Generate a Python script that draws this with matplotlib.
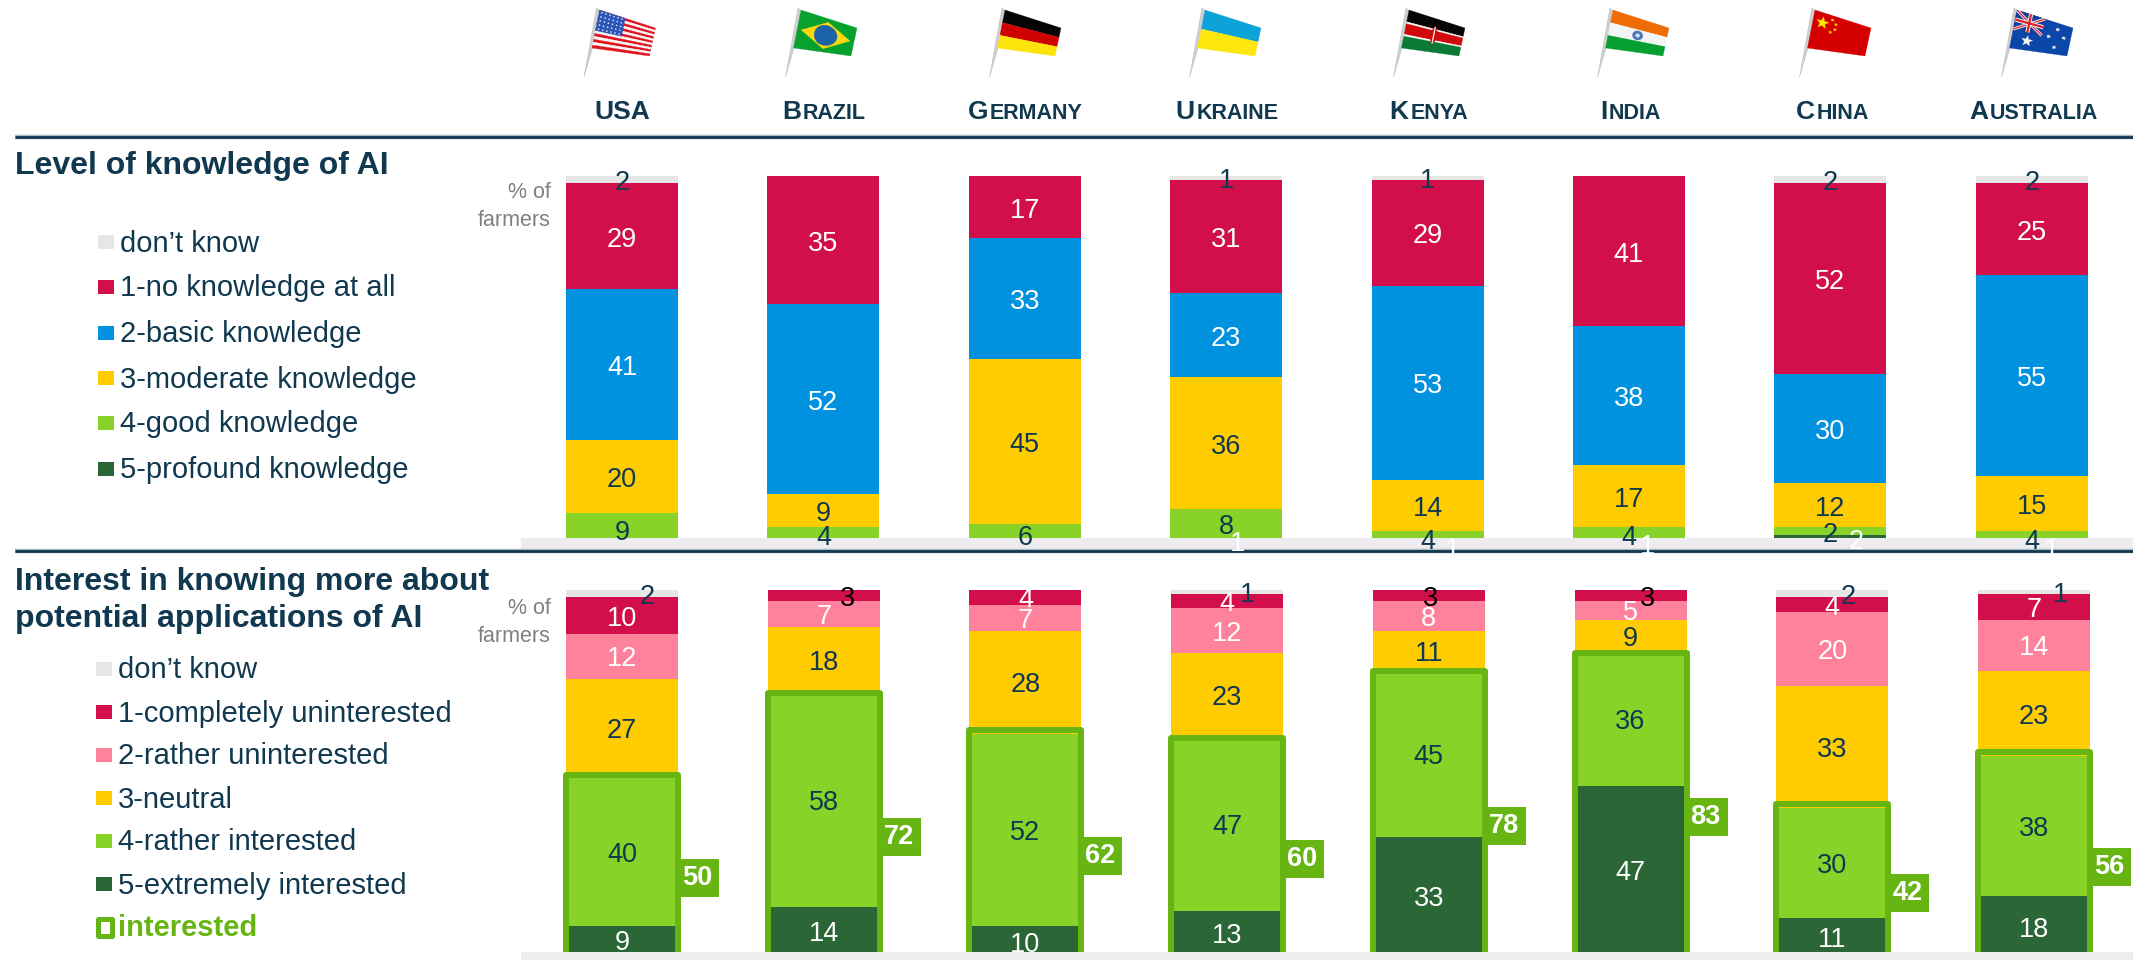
import numpy as np
import matplotlib
matplotlib.use('Agg')
import matplotlib.pyplot as plt
from matplotlib.patches import Polygon, Rectangle

plt.rcParams['font.family'] = ['Liberation Sans', 'DejaVu Sans']

W, H = 2133, 960
NAVY = '#10384F'
OUTLINE = '#66B512'

countries = ['USA', 'Brazil', 'Germany', 'Ukraine', 'Kenya', 'India', 'China', 'Australia']

# top panel, top of the stack first
k_dontknow = [2, 0, 0, 1, 1, 0, 2, 2]
k_none = [29, 35, 17, 31, 29, 41, 52, 25]
k_basic = [41, 52, 33, 23, 53, 38, 30, 55]
k_moderate = [20, 9, 45, 36, 14, 17, 12, 15]
k_good = [9, 4, 6, 8, 4, 4, 2, 4]
k_profound = [0, 0, 0, 1, 1, 1, 2, 1]

# bottom panel, top of the stack first
i_dontknow = [2, 0, 0, 1, 0, 0, 2, 1]
i_complete = [10, 3, 4, 4, 3, 3, 4, 7]
i_rather_un = [12, 7, 7, 12, 8, 5, 20, 14]
i_neutral = [27, 18, 28, 23, 11, 9, 33, 23]
i_rather = [40, 58, 52, 47, 45, 36, 30, 38]
i_extreme = [9, 14, 10, 13, 33, 47, 11, 18]
i_interested = [50, 72, 62, 60, 78, 83, 42, 56]

k_legend = ['don’t know', '1-no knowledge at all', '2-basic knowledge',
            '3-moderate knowledge', '4-good knowledge', '5-profound knowledge']
i_legend = ['don’t know', '1-completely uninterested', '2-rather uninterested',
            '3-neutral', '4-rather interested', '5-extremely interested']

k_colors = ['#E6E6E6', '#D30F4B', '#0091DF', '#FFCC00', '#89D329', '#2B6636']
i_colors = ['#E6E6E6', '#D30F4B', '#FF829D', '#FFCC00', '#89D329', '#2B6636']
k_textcol = [NAVY, 'white', 'white', NAVY, NAVY, 'white']
i_textcol = [NAVY, 'white', 'white', NAVY, NAVY, 'white']

# sideways nudges of the small labels, in pixels
k_profound_dx = [0, 0, 0, 11, 25, 19, 26, 20]
i_dontknow_dx = [25, 0, 0, 20, 0, 0, 16, 27]
i_three_dx = [0, 24, 0, 0, 2, 17, 0, 0]

SCALE_K = 3.66  # pixels per percent
SCALE_I = 3.69

fig = plt.figure(figsize=(W / 100, H / 100), dpi=100, facecolor='white')

# pixel canvas for rules, legends and flags
bg = fig.add_axes([0, 0, 1, 1], zorder=0)
bg.set_xlim(0, W)
bg.set_ylim(H, 0)
bg.axis('off')

bg.add_patch(Rectangle((521, 538), W - 521, 13, color='#EEECEF', lw=0))
bg.add_patch(Rectangle((521, 952), W - 521, 8, color='#EEECEF', lw=0))
for y in [137, 551]:
    bg.plot([15, W], [y, y], color='#A9BAC4', lw=3.2, solid_capstyle='butt')
    bg.plot([15, W], [y, y], color=NAVY, lw=2.0, solid_capstyle='butt')


def panel(top, bottom, first, step, scale):
    ax = fig.add_axes([0, 1 - bottom / H, 1, (bottom - top) / H], zorder=1)
    ax.patch.set_alpha(0)
    ax.axis('off')
    ax.set_xlim(-first / step, (W - first) / step)
    ax.set_ylim(100 - (bottom - top) / scale, 100)
    return ax


def stack(ax, series, colors, step):
    series = np.array(series, dtype=float)
    x = np.arange(series.shape[1])
    top = np.full(series.shape[1], 100.0)
    mids = []
    for s, col in zip(series, colors):
        ax.bar(x, s, bottom=top - s, width=112 / step, color=col, lw=0, zorder=1)
        mids.append(top - s / 2)
        top = top - s
    return x, mids


def num(ax, x, y, value, color, dx=0, dy=3.5):
    ax.annotate(str(value), (x, y), xytext=(dx * 0.72, -dy * 0.72), textcoords='offset points',
                ha='center', va='center', fontsize=19.5, color=color, zorder=5,
                annotation_clip=False)


# top panel
step_k = 201.4
ax_k = panel(176, 538, 622, step_k, SCALE_K)
k_series = [k_dontknow, k_none, k_basic, k_moderate, k_good, k_profound]
x, mids = stack(ax_k, k_series, k_colors, step_k)
for j, s in enumerate(k_series):
    for i, v in enumerate(s):
        if v == 0:
            continue
        if j == 5:
            num(ax_k, x[i], mids[j][i], v, k_textcol[j], dx=k_profound_dx[i])
        else:
            num(ax_k, x[i], mids[j][i], v, k_textcol[j])

# bottom panel
step_i = 201.7
ax_i = panel(590, 952, 622, step_i, SCALE_I)
i_series = [i_dontknow, i_complete, i_rather_un, i_neutral, i_rather, i_extreme]
x, mids = stack(ax_i, i_series, i_colors, step_i)
ax_i.bar(x, i_interested, width=112 / step_i, fill=False, edgecolor=OUTLINE, lw=4.3,
         joinstyle='round', zorder=3)
for j, s in enumerate(i_series):
    for i, v in enumerate(s):
        if v == 0:
            continue
        col = i_textcol[j]
        dx = 0
        if j == 0:
            dx = i_dontknow_dx[i]
        if j == 1 and v == 3:
            col = 'black'
            dx = i_three_dx[i]
        num(ax_i, x[i], mids[j][i], v, col, dx=dx, dy=1 if j == 5 else 3)
for i, v in enumerate(i_interested):
    tag_x, tag_y = x[i] + 75 / step_i, v / 2 - 3
    ax_i.add_patch(Rectangle((tag_x - 22 / step_i, tag_y - 19 / SCALE_I), 44 / step_i, 38 / SCALE_I,
                             fc=OUTLINE, lw=0, zorder=4))
    ax_i.text(tag_x, tag_y, str(v), ha='center', va='center', fontsize=19.5, fontweight='bold',
              color='white', zorder=6)


# country headers with small capitals
def header(word, xc, base=119):
    if word.isupper():
        parts = [bg.text(0, base, word, fontsize=19, fontweight='bold', color=NAVY, va='baseline')]
    else:
        parts = [bg.text(0, base, word[0], fontsize=19, fontweight='bold', color=NAVY, va='baseline'),
                 bg.text(0, base, word[1:].upper(), fontsize=15.5, fontweight='bold',
                         color=NAVY, va='baseline')]
    r = fig.canvas.get_renderer()
    widths = [p.get_window_extent(r).width for p in parts]
    pos = xc - (sum(widths) + 1.5 * (len(parts) - 1)) / 2
    for p, w in zip(parts, widths):
        p.set_x(pos)
        pos += w + 1.5


for i, c in enumerate(countries):
    header(c, 622 + step_i * i)

# titles and legends
bg.text(15, 174, 'Level of knowledge of AI', fontsize=23, fontweight='bold', color=NAVY, va='baseline')
bg.text(15, 590, 'Interest in knowing more about', fontsize=23, fontweight='bold', color=NAVY, va='baseline')
bg.text(15, 627, 'potential applications of AI', fontsize=23, fontweight='bold', color=NAVY, va='baseline')

for lab, col, y in zip(k_legend, k_colors, [242, 287, 333, 378, 423, 469]):
    bg.add_patch(Rectangle((98, y - 7), 16, 14, color=col, lw=0))
    bg.text(120, y + 1.5, lab, fontsize=21, color=NAVY, va='center')
for lab, col, y in zip(i_legend, i_colors, [669, 712, 755, 798, 841, 884]):
    bg.add_patch(Rectangle((96, y - 7), 16, 14, color=col, lw=0))
    bg.text(118, y + 1.5, lab, fontsize=21, color=NAVY, va='center')
bg.add_patch(Rectangle((97.5, 918.5), 14, 17, fc='white', ec=OUTLINE, lw=3.6, joinstyle='round'))
bg.text(118, 928.5, 'interested', fontsize=21, fontweight='bold', color=OUTLINE, va='center')

for y0, gap in [(192, 29), (609, 27)]:
    bg.text(551, y0, '% of', fontsize=15.5, color='#808080', ha='right', va='center')
    bg.text(551, y0 + gap, 'farmers', fontsize=15.5, color='#808080', ha='right', va='center')


# flags: everything in (u, v) on a slanted quad
def flag_map(ax0, ay0):
    tl, tr, br, bl = [np.array(p, float) for p in [(0, 0), (56, 18), (50, 46), (-7.5, 38)]]
    org = np.array([ax0, ay0], float)

    def f(u, v):
        return org + (1 - v) * ((1 - u) * tl + u * tr) + v * ((1 - u) * bl + u * br)
    return f


def poly(f, pts, col, z=2):
    bg.add_patch(Polygon([f(u, v) for u, v in pts], closed=True, fc=col, ec=col, lw=0.2, zorder=z))


def strip(f, v0, v1, col, u0=0, u1=1):
    poly(f, [(u0, v0), (u1, v0), (u1, v1), (u0, v1)], col)


def disc(f, u, v, r, col, z=3, n=24, star=False):
    t = np.linspace(0, 2 * np.pi, n, endpoint=False) - np.pi / 2
    if star:
        t = np.linspace(0, 2 * np.pi, 10, endpoint=False) - np.pi / 2
        rr = np.where(np.arange(10) % 2 == 0, r, r * 0.42)
    else:
        rr = np.full(len(t), r)
    poly(f, list(zip(u + rr * np.cos(t), v + 1.5 * rr * np.sin(t))), col, z)


def seg(f, a, b, lw, col):
    p, q = f(*a), f(*b)
    bg.plot([p[0], q[0]], [p[1], q[1]], color=col, lw=lw, solid_capstyle='butt', zorder=3)


def usa(f):
    for k in range(13):
        strip(f, k / 13, (k + 1) / 13, '#E0141E' if k % 2 == 0 else '#F6F6F6')
    strip(f, 0, 7 / 13, '#2C55B8', 0, 0.46)
    for a in np.linspace(0.05, 0.41, 6):
        for b in np.linspace(0.05, 0.49, 5):
            disc(f, a, b, 0.012, '#E8EEFA', n=6)


def brazil(f):
    strip(f, 0, 1, '#06A12F')
    poly(f, [(0.5, 0.1), (0.93, 0.5), (0.5, 0.9), (0.07, 0.5)], '#FBD90E')
    disc(f, 0.5, 0.5, 0.2, '#1D63A8')


def germany(f):
    strip(f, 0, 1 / 3, '#050505')
    strip(f, 1 / 3, 2 / 3, '#CF0000')
    strip(f, 2 / 3, 1, '#FCE30C')


def ukraine(f):
    strip(f, 0, 0.5, '#0EA3D8')
    strip(f, 0.5, 1, '#FCE60E')


def kenya(f):
    strip(f, 0, 0.31, '#050505')
    strip(f, 0.31, 0.36, '#F5F5F5')
    strip(f, 0.36, 0.64, '#CF0A0A')
    strip(f, 0.64, 0.69, '#F5F5F5')
    strip(f, 0.69, 1, '#0A7A36')
    poly(f, [(0.5, 0.2), (0.58, 0.5), (0.5, 0.8), (0.42, 0.5)], '#CF0A0A', 3)
    seg(f, (0.5, 0.25), (0.5, 0.75), 0.9, '#F5F5F5')


def india(f):
    strip(f, 0, 1 / 3, '#EE6C05')
    strip(f, 1 / 3, 2 / 3, '#F4F4F4')
    strip(f, 2 / 3, 1, '#07A030')
    disc(f, 0.5, 0.5, 0.09, '#4A74B8')
    disc(f, 0.5, 0.5, 0.035, '#DDE6F5')


def china(f):
    strip(f, 0, 1, '#D40000')
    disc(f, 0.17, 0.27, 0.11, '#FFE600', star=True)
    for a, b in [(0.33, 0.12), (0.4, 0.22), (0.4, 0.37), (0.33, 0.47)]:
        disc(f, a, b, 0.03, '#FFE600', star=True)


def australia(f):
    strip(f, 0, 1, '#0B47A8')
    strip(f, 0, 0.5, '#1A3E96', 0, 0.5)
    seg(f, (0, 0), (0.5, 0.5), 2.2, '#F6F6F6')
    seg(f, (0.5, 0), (0, 0.5), 2.2, '#F6F6F6')
    seg(f, (0, 0), (0.5, 0.5), 0.9, '#D8202A')
    seg(f, (0.5, 0), (0, 0.5), 0.9, '#D8202A')
    seg(f, (0.25, 0), (0.25, 0.5), 3, '#F6F6F6')
    seg(f, (0, 0.25), (0.5, 0.25), 3, '#F6F6F6')
    seg(f, (0.25, 0), (0.25, 0.5), 1.6, '#D8202A')
    seg(f, (0, 0.25), (0.5, 0.25), 1.6, '#D8202A')
    disc(f, 0.27, 0.74, 0.1, '#F6F6F6', star=True)
    for a, b in [(0.75, 0.2), (0.75, 0.78), (0.62, 0.48), (0.88, 0.42)]:
        disc(f, a, b, 0.04, '#F6F6F6', star=True)


flag_x = [599.5, 801, 1005, 1205, 1409, 1613, 1815, 2017]
for fx, draw in zip(flag_x, [usa, brazil, germany, ukraine, kenya, india, china, australia]):
    bg.add_patch(Polygon([(fx - 3, 8), (fx - 0.5, 10), (fx - 7, 48), (fx - 15.5, 77)],
                         closed=True, fc='#CFCFCF', ec='#B5B5B5', lw=0.3, zorder=1))
    draw(flag_map(fx, 10))

fig.savefig('out.png', dpi=100)
